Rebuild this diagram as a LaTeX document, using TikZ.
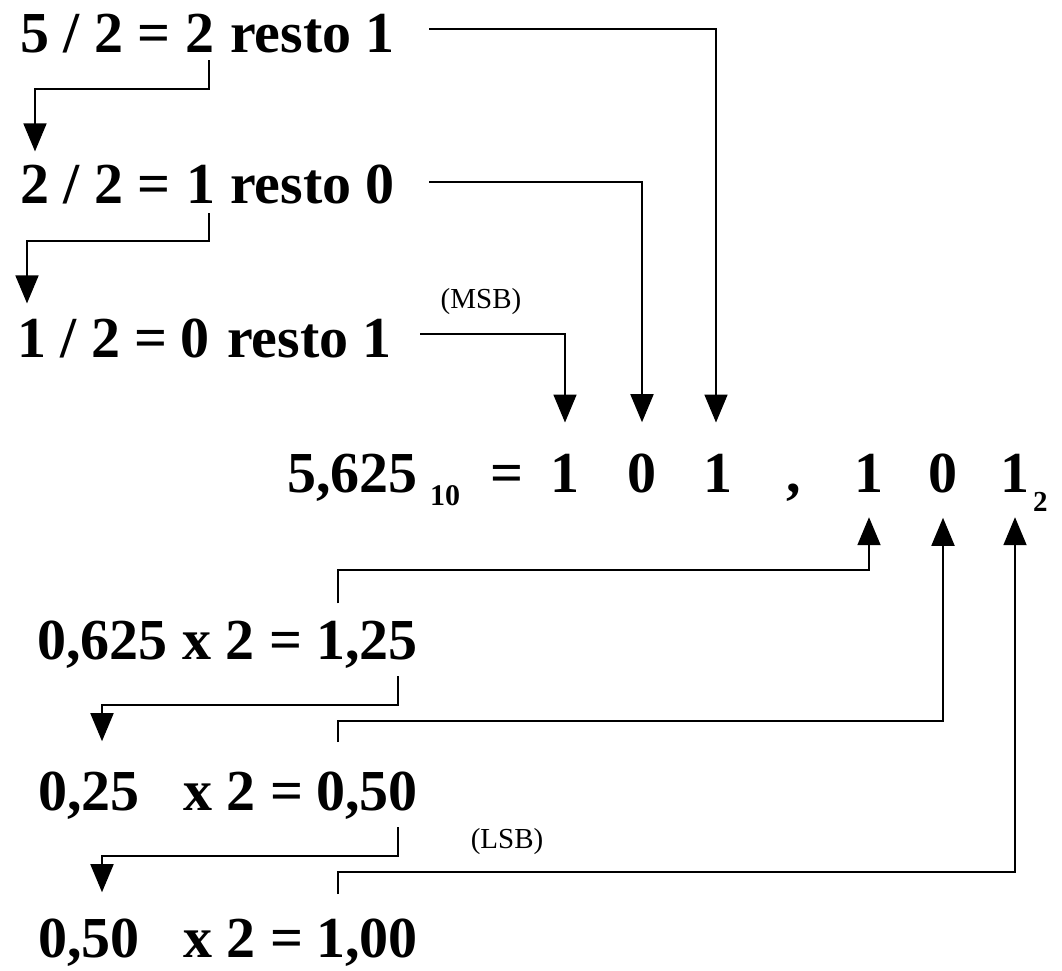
\documentclass[tikz,border=0pt]{standalone}
\usepackage{fontspec}
\setmainfont{Liberation Serif}
\usetikzlibrary{arrows.meta}
\tikzset{
	big/.style={font=\bfseries\fontsize{58}{60}\selectfont,inner sep=0pt},
	sub/.style={font=\bfseries\fontsize{30}{32}\selectfont,inner sep=0pt},
	tag/.style={font=\fontsize{29}{31}\selectfont,inner sep=0pt},
	conn/.style={line width=1.8pt,-{Triangle[width=23pt,length=28pt]}}
}
\begin{document}
\begin{tikzpicture}[x=1pt,y=-1pt]
	\useasboundingbox (0,0) rectangle (1062,971);
	% integer part: divisions by 2
	\node[big,anchor=base west] (div1) at (20,53) {5 / 2 =};
	\node[big,anchor=base] (quo1) at (200,53) {2};
	\node[big,anchor=base west] (rem1) at (230,53) {resto 1};
	\node[big,anchor=base west] (div2) at (20,203) {2 / 2 =};
	\node[big,anchor=base] (quo2) at (201,203) {1};
	\node[big,anchor=base west] (rem2) at (230,203) {resto 0};
	\node[big,anchor=base west] (div3) at (17,357) {1 / 2 =};
	\node[big,anchor=base] (quo3) at (195,357) {0};
	\node[big,anchor=base west] (rem3) at (227,357) {resto 1};
	\node[tag] (msb) at (481,302) {(MSB)};
	% the result
	\node[big,anchor=base west] (dec) at (287,492) {5,625};
	\node[sub,anchor=base west] (ten) at (430,505) {10};
	\node[big,anchor=base] (eq) at (507,492) {=};
	\node[big,anchor=base] (b1) at (565,492) {1};
	\node[big,anchor=base] (b2) at (642,492) {0};
	\node[big,anchor=base] (b3) at (718,492) {1};
	\node[big,anchor=base] (comma) at (794,492) {,};
	\node[big,anchor=base] (b4) at (869,492) {1};
	\node[big,anchor=base] (b5) at (943,492) {0};
	\node[big,anchor=base] (b6) at (1015,492) {1};
	\node[font=\bfseries\fontsize{29}{31}\selectfont,inner sep=0pt,anchor=base west] (two) at (1033,511) {2};
	% fractional part: products by 2
	\node[big,anchor=base west] (frac1) at (37,659) {0,625 x 2 =};
	\node[big,anchor=base east] (prod1) at (418,659) {1,25};
	\node[big,anchor=base west] (frac2) at (38,810) {0,25};
	\node[big,anchor=base west] (mul2) at (183,810) {x 2 =};
	\node[big,anchor=base east] (prod2) at (418,810) {0,50};
	\node[big,anchor=base west] (frac3) at (38,957) {0,50};
	\node[big,anchor=base west] (mul3) at (183,957) {x 2 =};
	\node[big,anchor=base east] (prod3) at (418,957) {1,00};
	\node[tag] (lsb) at (507,842) {(LSB)};
	% quotient goes down to the next division
	\draw[conn] ([xshift=9pt,yshift=-7pt]quo1.south) -- ++(0,29) -| ([xshift=15pt,yshift=13pt]div2.north west);
	\draw[conn] ([xshift=8pt,yshift=-10pt]quo2.south) -- ++(0,28) -| ([xshift=10pt,yshift=15pt]div3.north west);
	% remainders go to the bits
	\draw[conn] ([xshift=34pt,yshift=5pt]rem1.east) -| ([xshift=-2pt,yshift=31pt]b3.north);
	\draw[conn] ([xshift=34pt,yshift=2pt]rem2.east) -| ([yshift=31pt]b2.north);
	\draw[conn] ([xshift=28pt,yshift=4pt]rem3.east) -| ([yshift=31pt]b1.north);
	% fraction goes down to the next product
	\draw[conn] ([xshift=-20pt,yshift=-8pt]prod1.south east) -- ++(0,29) -| ([xshift=64pt,yshift=30pt]frac2.north west);
	\draw[conn] ([xshift=-20pt,yshift=-8pt]prod2.south east) -- ++(0,29) -| ([xshift=64pt,yshift=26pt]frac3.north west);
	% integer digits go up to the bits
	\draw[conn] ([xshift=21.5pt,yshift=17pt]prod1.north west) |- ([yshift=-78pt]b4.south) -- ([yshift=-25pt]b4.south);
	\draw[conn] ([xshift=21.5pt,yshift=29pt]prod2.north west) |- ([yshift=-228pt]b5.south) -- ([yshift=-25pt]b5.south);
	\draw[conn] ([xshift=21.5pt,yshift=24pt]prod3.north west) |- ([yshift=-380pt]b6.south) -- ([yshift=-25pt]b6.south);
\end{tikzpicture}
\end{document}
